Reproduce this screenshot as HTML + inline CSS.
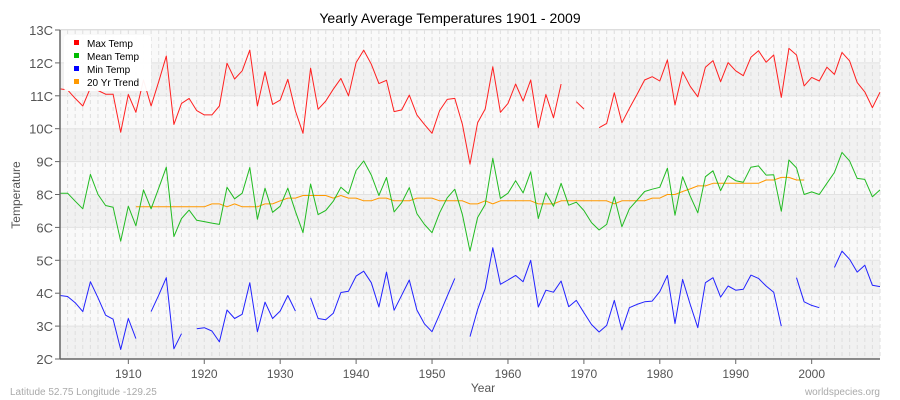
<!DOCTYPE html>
<html><head><meta charset="utf-8"><style>
body{margin:0;background:#fff;}
svg{display:block;font-family:"Liberation Sans",sans-serif;}
</style></head><body>
<svg id="chart" width="900" height="400">
<text x="450" y="23" text-anchor="middle" font-size="14" fill="#000">Yearly Average Temperatures 1901 - 2009</text>
<g id="grid"></g>
<g id="series"></g>
<g id="axes"></g>
<text transform="translate(20,195) rotate(-90)" text-anchor="middle" font-size="12" fill="#555">Temperature</text>
<text x="483" y="392" text-anchor="middle" font-size="12" fill="#555">Year</text>
<text x="10" y="395" font-size="10" fill="#aaa">Latitude 52.75 Longitude -129.25</text>
<text x="880" y="395" text-anchor="end" font-size="10" fill="#aaa">worldspecies.org</text>
<g>
<rect x="64" y="35" width="87" height="56" rx="3" fill="#fff" opacity="0.95"/>
<g><rect x="74" y="40" width="5" height="5" fill="#ff0000"/><text x="87" y="47" font-size="10" fill="#000">Max Temp</text></g>
<g><rect x="74" y="53" width="5" height="5" fill="#00bb00"/><text x="87" y="60" font-size="10" fill="#000">Mean Temp</text></g>
<g><rect x="74" y="66" width="5" height="5" fill="#0000ff"/><text x="87" y="73" font-size="10" fill="#000">Min Temp</text></g>
<g><rect x="74" y="79" width="5" height="5" fill="#ff9900"/><text x="87" y="86" font-size="10" fill="#000">20 Yr Trend</text></g>
</g>
</svg>
<script>
const startYear = 1901;
const yTickLabels = [13,12,11,10,9,8,6,5,4,3,2];
const xTickYears = [1910,1920,1930,1940,1950,1960,1970,1980,1990,2000];
const maxTemp = [11.21,11.18,10.92,10.69,11.24,11.16,11.05,11.05,9.89,11.04,10.5,11.48,10.69,11.43,12.21,10.13,10.77,10.92,10.55,10.42,10.42,10.69,11.99,11.51,11.76,12.39,10.69,11.73,
10.74,10.87,11.5,10.54,9.86,11.84,10.59,10.84,11.2,11.53,11.0,12.01,12.39,11.96,11.37,11.47,10.52,10.57,11.02,10.42,10.13,9.86,10.55,10.89,10.92,10.13,8.92,10.18,
10.6,11.88,10.5,10.77,11.36,10.84,11.48,10.03,11.04,10.33,11.36,null,10.82,10.6,null,10.03,10.16,11.09,10.18,10.62,11.04,11.48,11.58,11.45,12.09,10.72,11.73,11.29,
10.97,11.87,12.07,11.43,12.01,11.76,11.61,12.17,12.37,12.02,12.24,10.95,12.44,12.24,11.3,11.56,11.45,11.87,11.65,12.32,12.06,11.4,11.12,10.64,11.11];
const meanTemp = [8.04,8.04,7.59,7.13,8.61,8.0,7.33,7.23,5.58,7.29,6.1,8.14,7.13,8.19,8.83,5.72,6.54,7.05,6.43,6.35,6.26,6.18,8.22,7.74,8.04,8.82,6.5,8.19,
6.92,7.29,8.19,6.98,5.84,8.32,6.78,7.03,7.59,8.22,8.02,8.73,9.02,8.59,7.94,8.52,6.94,7.5,8.21,6.84,6.18,5.84,6.89,7.8,8.16,6.78,5.28,6.6,
7.39,9.1,7.76,8.04,8.42,8.05,8.69,6.54,8.05,7.29,8.34,7.35,7.53,7.03,6.29,5.92,6.18,7.86,6.04,7.13,7.65,8.09,8.16,8.22,8.8,6.74,8.54,7.9,
6.89,8.54,8.72,8.12,8.57,8.42,8.37,8.83,8.87,8.59,8.6,6.98,9.05,8.81,8.0,8.08,8.0,8.34,8.67,9.28,9.02,8.49,8.46,7.86,8.14];
const minTemp = [3.93,3.9,3.71,3.44,4.35,3.86,3.33,3.21,2.29,3.23,2.62,null,3.44,3.94,4.47,2.31,2.77,null,2.92,2.95,2.85,2.52,3.49,3.23,3.36,4.32,2.83,3.73,
3.23,3.46,3.93,3.46,null,3.86,3.23,3.19,3.39,4.02,4.06,4.52,4.67,4.32,3.58,4.64,3.48,3.94,4.4,3.49,3.07,2.83,3.36,3.91,4.45,null,2.68,3.5,
4.14,5.38,4.27,4.4,4.54,4.35,5.0,3.58,4.09,4.03,4.37,3.59,3.78,3.41,3.05,2.82,3.02,3.78,2.88,3.56,3.66,3.74,3.76,4.05,4.54,3.08,4.42,3.66,
2.95,4.32,4.47,3.88,4.22,4.09,4.12,4.55,4.45,4.22,4.03,3.0,null,4.47,3.74,3.63,3.56,null,4.78,5.28,5.03,4.64,4.85,4.24,4.2];
const trend = [null,null,null,null,null,null,null,null,null,null,
7.25,7.25,7.25,7.25,7.25,7.25,7.25,7.25,7.25,7.25,
7.43,7.43,7.25,7.43,7.25,7.25,7.25,7.43,
7.43,7.62,7.78,7.78,7.94,7.94,7.94,7.94,7.78,7.94,7.78,7.78,7.62,7.62,7.78,7.78,7.62,7.62,7.62,7.78,7.78,7.78,7.62,7.62,7.62,7.62,7.43,7.43,
7.62,7.43,7.62,7.62,7.62,7.62,7.62,7.43,7.43,7.43,7.62,7.62,7.62,7.62,7.62,7.62,7.62,7.43,7.62,7.62,7.62,7.62,7.78,7.78,8.0,8.0,8.09,8.17,
8.26,8.26,8.34,8.34,8.34,8.34,8.34,8.34,8.34,8.44,8.44,8.52,8.52,8.44,8.44,
null,null,null,null,null,null,null,null,null,null];

const NS='http://www.w3.org/2000/svg';
const L=60,R=880,T=30,B=359;
const nYears=maxTemp.length;
function xs(i){return L+i*(R-L)/(nYears-1);}
function ys(v){
  const step=(B-T)/(yTickLabels.length-1);
  for(let k=0;k<yTickLabels.length-1;k++){
    const a=yTickLabels[k],b=yTickLabels[k+1];
    if(v<=a&&v>=b||k===yTickLabels.length-2||(k===0&&v>a)){
      return T+step*(k+(a-v)/(a-b));
    }
  }
}
function mk(tag,attrs,parent){const e=document.createElementNS(NS,tag);for(const k in attrs)e.setAttribute(k,attrs[k]);parent.appendChild(e);return e;}
const grid=document.getElementById('grid'),axes=document.getElementById('axes'),series=document.getElementById('series');
const bg=mk('rect',{x:L,y:T,width:R-L,height:B-T,fill:'#f9f9f9'},grid);


const step=(B-T)/(yTickLabels.length-1);
for(let k=0;k<yTickLabels.length-1;k++){
  if(k%2===1){const band=mk('rect',{x:L,y:T+k*step,width:R-L,height:step,fill:'#f1f1f1'},grid);
  
  }
}
for(let i=0;i<nYears;i++){
  const gl=mk('line',{x1:xs(i),x2:xs(i),y1:T,y2:B,stroke:'#dedede','stroke-width':1,'stroke-dasharray':'4,3'},grid);
  
  
}
yTickLabels.forEach((t,k)=>{
  const y=T+k*step;
  const hl=mk('line',{x1:L,x2:R,y1:y,y2:y,stroke:'#e2e2e2','stroke-width':1},grid);
  
  
  const tk=mk('line',{x1:L-5,x2:L,y1:y,y2:y,stroke:'#666'},axes);
  
  
  const tx=mk('text',{x:L-7,y:y+5,'text-anchor':'end','font-size':13,fill:'#555'},axes);
  tx.textContent=t+'C';
  
  
});
mk('rect',{x:L,y:T-1,width:R-L,height:1,fill:'#ddd'},axes);
const ax1=mk('line',{x1:L,x2:L,y1:T,y2:B,stroke:'#666','stroke-width':1.5},axes);


const ax2=mk('line',{x1:L,x2:R,y1:B,y2:B,stroke:'#666','stroke-width':1.5},axes);


xTickYears.forEach(yr=>{
  const x=xs(yr-startYear);
  const tk=mk('line',{x1:x,x2:x,y1:B,y2:B+5,stroke:'#666'},axes);
  
  
  const tx=mk('text',{x:x,y:B+19,'text-anchor':'middle','font-size':12,fill:'#555'},axes);
  tx.textContent=yr;
  
  
});
function drawSeries(arr,color,name){
  let seg=[];
  const segs=[];
  arr.forEach((v,i)=>{if(v===null){if(seg.length)segs.push(seg);seg=[];}else seg.push(xs(i).toFixed(1)+','+ys(v).toFixed(1));});
  if(seg.length)segs.push(seg);
  segs.forEach(s=>{
    const p=mk('polyline',{points:s.join(' '),fill:'none',stroke:color,'stroke-width':1,'stroke-linejoin':'round'},series);
    
    
  });
}
drawSeries(trend,'#ff9900','trend-line');
drawSeries(maxTemp,'#ff2020','max-temp-line');
drawSeries(meanTemp,'#22bb22','mean-temp-line');
drawSeries(minTemp,'#2222ff','min-temp-line');
</script>
</body></html>
